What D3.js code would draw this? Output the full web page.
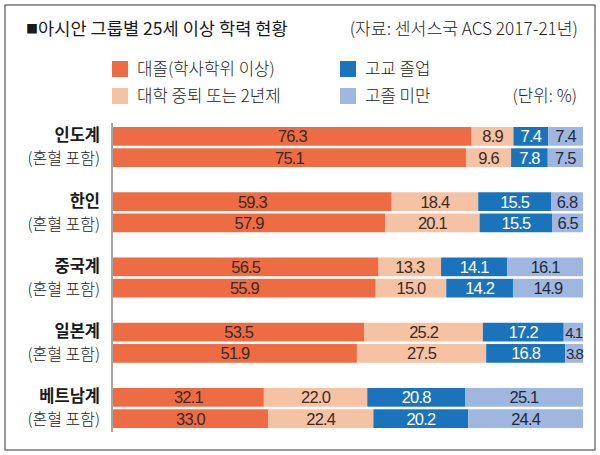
<!DOCTYPE html>
<html>
<head>
<meta charset="utf-8">
<script src="https://cdn.jsdelivr.net/npm/d3@7/dist/d3.min.js"></script>
<style>
    body { margin: 0; background: #fff; }
    svg { display: block; }
    text { font-family: "Noto Sans CJK KR", "Noto Sans", sans-serif; }
    .num { font-family: "Liberation Sans Narrow", "Liberation Sans", sans-serif; }
</style>
</head>
<body>
<svg id="chart" width="600" height="455"></svg>
<script>
// 데이터
const groups = ["인도계", "한인", "중국계", "일본계", "베트남계"]
const subLabel = "(혼혈 포함)"
const seriesNames = ["대졸(학사학위 이상)", "대학 중퇴 또는 2년제", "고교 졸업", "고졸 미만"]
const college = [[76.3, 75.1], [59.3, 57.9], [56.5, 55.9], [53.5, 51.9], [32.1, 33.0]]
const someCollege = [[8.9, 9.6], [18.4, 20.1], [13.3, 15.0], [25.2, 27.5], [22.0, 22.4]]
const highSchool = [[7.4, 7.8], [15.5, 15.5], [14.1, 14.2], [17.2, 16.8], [20.8, 20.2]]
const belowHigh = [[7.4, 7.5], [6.8, 6.5], [16.1, 14.9], [4.1, 3.8], [25.1, 24.4]]

const colors = ["#ee6c44", "#f6c2a4", "#1b74bb", "#9fb6de"]
const textColors = ["#3b2a22", "#3b2a22", "#ffffff", "#1f2a40"]

const svg = d3.select("#chart")

// 테두리
svg.append("rect")
    .attr("x", 5).attr("y", 5)
    .attr("width", 590).attr("height", 445)
    .attr("fill", "none")
    .attr("stroke", "#555")
    .attr("stroke-width", 1.2)

// 제목
const title = svg.append("text")
    .attr("x", 26).attr("y", 35)
    .attr("font-size", 17.6).attr("font-weight", 400).attr("fill", "#1a1a1a")
title.append("tspan").attr("font-size", 12).attr("dy", -1).text("■")
title.append("tspan").attr("dy", 1).text("아시안 그룹별 25세 이상 학력 현황")
svg.append("text")
    .attr("x", 578).attr("y", 35)
    .attr("text-anchor", "end")
    .attr("font-size", 17.2).attr("font-weight", 300).attr("fill", "#222")
    .text("(자료: 센서스국 ACS 2017-21년)")

// 범례
const legendPos = [[112, 61], [112, 88], [340, 61], [340, 88]]
const legend = svg.append("g").attr("class", "legend")
seriesNames.forEach((name, i) => {
    const p = legendPos[i]
    legend.append("rect")
        .attr("x", p[0]).attr("y", p[1])
        .attr("width", 16).attr("height", 16)
        .attr("fill", colors[i])
    legend.append("text")
        .attr("x", p[0] + 25).attr("y", p[1] + 8)
        .attr("dy", "0.36em")
        .attr("font-size", 16.8).attr("font-weight", 300).attr("fill", "#222")
        .text(name)
})
svg.append("text")
    .attr("x", 577).attr("y", 96)
    .attr("dy", "0.36em")
    .attr("text-anchor", "end")
    .attr("font-size", 16.8).attr("font-weight", 300).attr("fill", "#222")
    .text("(단위: %)")

// 척도
const x = d3.scaleLinear().domain([0, 100]).range([113, 583])
const y = d3.scaleBand().domain(groups).range([127, 428]).paddingInner(0.387)
const yInner = d3.scaleBand().domain([0, 1]).range([0, y.bandwidth()]).paddingInner(0.12)

// 세로 축선
svg.append("line")
    .attr("x1", 112).attr("x2", 112)
    .attr("y1", y(groups[0]) - 4).attr("y2", y(groups[4]) + y.bandwidth() + 4)
    .attr("stroke", "#888").attr("stroke-width", 1.5)

// 행 데이터 만들기
const rows = []
groups.forEach((g, gi) => {
    [0, 1].forEach(k => {
        const vals = [college[gi][k], someCollege[gi][k], highSchool[gi][k], belowHigh[gi][k]]
        let acc = 0
        const segs = vals.map((v, si) => {
            const s = { series: si, value: v, x0: acc, x1: acc + v }
            acc += v
            return s
        })
        rows.push({ group: g, k: k, segs: segs })
    })
})

const rowG = svg.append("g").selectAll("g")
    .data(rows)
    .join("g")
    .attr("transform", d => `translate(0,${y(d.group) + yInner(d.k)})`)

rowG.selectAll("rect")
    .data(d => d.segs)
    .join("rect")
    .attr("x", d => x(d.x0))
    .attr("width", d => x(d.x1) - x(d.x0))
    .attr("y", 0)
    .attr("height", yInner.bandwidth())
    .attr("fill", d => colors[d.series])

rowG.selectAll("text")
    .data(d => d.segs)
    .join("text")
    .attr("class", "num")
    .attr("x", d => (x(d.x0) + x(d.x1)) / 2)
    .attr("y", yInner.bandwidth() / 2)
    .attr("dy", "0.36em")
    .attr("text-anchor", "middle")
    .attr("font-size", d => d.value < 5 ? 15 : 16.5)
    .attr("letter-spacing", d => d.value < 5 ? -1.5 : -0.8)
    .attr("fill", d => textColors[d.series])
    .text(d => d.value.toFixed(1))

// 행 라벨
const labels = svg.append("g").attr("class", "labels")
groups.forEach(g => {
    labels.append("text")
        .attr("x", 100).attr("y", y(g) + yInner(0) + yInner.bandwidth() / 2 - 1)
        .attr("dy", "0.36em")
        .attr("text-anchor", "end")
        .attr("font-size", 16.5).attr("font-weight", 600).attr("fill", "#1a1a1a")
        .text(g)
    labels.append("text")
        .attr("x", 100).attr("y", y(g) + yInner(1) + yInner.bandwidth() / 2 + 1)
        .attr("dy", "0.36em")
        .attr("text-anchor", "end")
        .attr("font-size", 16).attr("font-weight", 300).attr("fill", "#222")
        .text(subLabel)
})
</script>
</body>
</html>
